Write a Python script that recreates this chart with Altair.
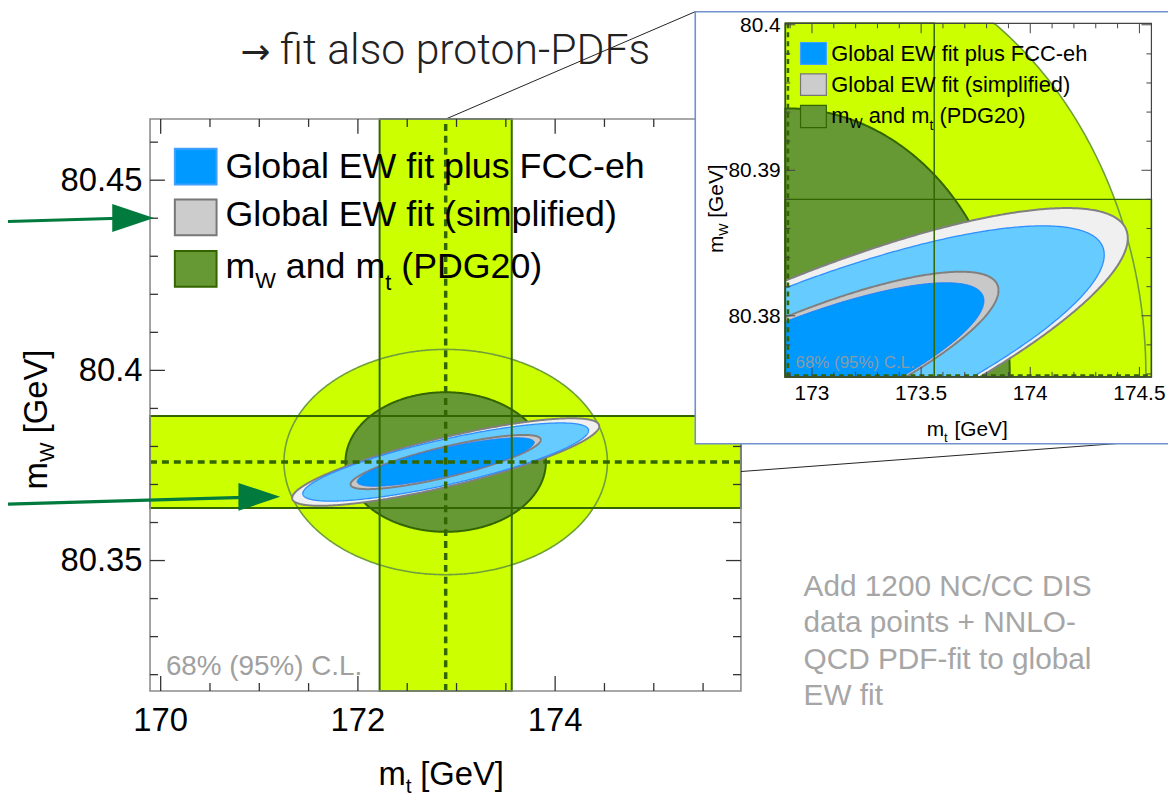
import numpy as np
import pandas as pd
import altair as alt

# ---------------- data ----------------
MT, SMT = 172.89, 0.67          # m_t (PDG20) centre and 1-sigma
MW, SMW = 80.3759, 0.0121       # m_W (PDG20) centre and 1-sigma
FIT_SIMPLE = dict(sx=0.636, sy=0.0047, rho=0.82)   # global EW fit (simplified)
FIT_FCC = dict(sx=0.592, sy=0.0042, rho=0.806)     # global EW fit plus FCC-eh
CHI2_68, CHI2_95 = 2.30, 5.99

MAIN_X = [169.892, 175.884]
MAIN_Y = [80.3157, 80.4661]
INSET_X = [172.878, 174.555]
INSET_Y = [80.3758, 80.4001]

MAIN_XTICK_MAJOR = [170, 172, 174]
MAIN_XTICK_MINOR = [170.5, 171, 171.5, 172.5, 173, 173.5, 174.5, 175, 175.5]
MAIN_YTICK_MAJOR = [80.35, 80.40, 80.45]
MAIN_YTICK_MINOR = [80.32, 80.33, 80.34, 80.36, 80.37, 80.38, 80.39,
                    80.41, 80.42, 80.43, 80.44, 80.46]
MAIN_XLABELS = ["170", "172", "174"]
MAIN_YLABELS = ["80.35", "80.4", "80.45"]

INSET_XTICK_MAJOR = [173, 173.5, 174, 174.5]
INSET_XTICK_MINOR = [172.9, 173.1, 173.2, 173.3, 173.4, 173.6, 173.7, 173.8,
                     173.9, 174.1, 174.2, 174.3, 174.4]
INSET_YTICK_MAJOR = [80.38, 80.39, 80.40]
INSET_YTICK_MINOR = [80.376, 80.378, 80.382, 80.384, 80.386, 80.388,
                     80.392, 80.394, 80.396, 80.398]
INSET_XLABELS = ["173", "173.5", "174", "174.5"]
INSET_YLABELS = ["80.38", "80.39", "80.4"]

LEGEND_1 = "Global EW fit plus FCC-eh"
LEGEND_2 = "Global EW fit (simplified)"
TITLE_ARROW = "\u2192"
TITLE = "fit also proton-PDFs"
NOTE = ["Add 1200 NC/CC DIS", "data points + NNLO-", "QCD PDF-fit to global", "EW fit"]
CL_TEXT = "68% (95%) C.L."

# ---------------- style / layout ----------------
FONT = "Liberation Sans, Arial, Helvetica, sans-serif"
LIME = "#ccff00"
DGREEN = "#669933"
EDGE = "#336600"
OX, OY = 151, 117           # page position of main plot origin
W, H = 595, 576
SP = 0.278                  # width of a space, em


def px(x):
    return x - OX


def py(y):
    return y - OY


ONE = pd.DataFrame({"k": [0]})

MXS = alt.Scale(domain=MAIN_X, range=[0, W], nice=False, zero=False)
MYS = alt.Scale(domain=MAIN_Y, range=[H, 0], nice=False, zero=False)
IXS = alt.Scale(domain=INSET_X, range=[px(790.7), px(1159.3)], nice=False, zero=False, clamp=True)
IYS = alt.Scale(domain=INSET_Y, range=[py(376.7), py(20.7)], nice=False, zero=False, clamp=True)


def ellipse(sx, sy, rho, chi2, n=721):
    t = np.linspace(0, 2 * np.pi, n)
    r = np.sqrt(chi2)
    x = MT + r * sx * np.cos(t)
    y = MW + r * (rho * sy * np.cos(t) + sy * np.sqrt(1 - rho ** 2) * np.sin(t))
    return pd.DataFrame({"x": x, "y": y, "o": np.arange(n)})


def XQ(f, s):
    return alt.X(f, type="quantitative", scale=s, axis=None)


def YQ(f, s):
    return alt.Y(f, type="quantitative", scale=s, axis=None)


def poly(df, XS, YS, fill, stroke, sw):
    return alt.Chart(df).mark_line(fill=fill, stroke=stroke, strokeWidth=sw,
                                   strokeJoin="round").encode(
        x=XQ("x", XS), y=YQ("y", YS), order=alt.Order("o:Q"))


def plot_content(XS, YS, xd, yd, dash, dw, ew):
    vband = pd.DataFrame({"x0": [MT - SMT], "x1": [MT + SMT], "y0": [yd[0]], "y1": [yd[1]]})
    hband = pd.DataFrame({"x0": [xd[0]], "x1": [xd[1]], "y0": [MW - SMW], "y1": [MW + SMW]})
    layers = []
    for b in (vband, hband):
        layers.append(alt.Chart(b).mark_rect(fill=LIME).encode(
            x=XQ("x0", XS), x2="x1", y=YQ("y0", YS), y2="y1"))
    pdg = dict(sx=SMT, sy=SMW, rho=0.0)
    layers.append(poly(ellipse(chi2=CHI2_95, **pdg), XS, YS, LIME, "#6f9f3c", 1.6))
    layers.append(poly(ellipse(chi2=CHI2_68, **pdg), XS, YS, DGREEN, EDGE, 2))
    layers.append(poly(ellipse(chi2=CHI2_95, **FIT_SIMPLE), XS, YS, "#f0f0f0", "#808080", 2))
    layers.append(poly(ellipse(chi2=CHI2_95, **FIT_FCC), XS, YS, "#66ccff", "#2f8fff", 1.3))
    layers.append(poly(ellipse(chi2=CHI2_68, **FIT_SIMPLE), XS, YS, "#c8c8c8", "#808080", 2))
    layers.append(poly(ellipse(chi2=CHI2_68, **FIT_FCC), XS, YS, "#0099ff", "#1a7fff", 1))
    for b in (vband, hband):
        layers.append(alt.Chart(b).mark_rect(fillOpacity=0, stroke=EDGE, strokeWidth=ew).encode(
            x=XQ("x0", XS), x2="x1", y=YQ("y0", YS), y2="y1"))
    layers.append(alt.Chart(pd.DataFrame({"v": [MT], "a": [yd[0]], "b": [yd[1]]})).mark_rule(
        color=EDGE, strokeWidth=dw, strokeDash=dash).encode(x=XQ("v", XS), y=YQ("a", YS), y2="b"))
    layers.append(alt.Chart(pd.DataFrame({"v": [MW], "a": [xd[0]], "b": [xd[1]]})).mark_rule(
        color=EDGE, strokeWidth=dw, strokeDash=dash).encode(y=YQ("v", YS), x=XQ("a", XS), x2="b"))
    return layers


def frame_and_ticks(XS, YS, xd, yd, xmaj, xmin, ymaj, ymin, lmaj, lmin, fcol, fw, tcol, tw):
    layers = [alt.Chart(pd.DataFrame({"x0": [xd[0]], "x1": [xd[1]], "y0": [yd[0]], "y1": [yd[1]]}))
              .mark_rect(fillOpacity=0, stroke=fcol, strokeWidth=fw).encode(
                  x=XQ("x0", XS), x2="x1", y=YQ("y0", YS), y2="y1")]
    for vals, L in ((xmaj, lmaj), (xmin, lmin)):
        d = pd.DataFrame({"v": vals, "lo": yd[0], "hi": yd[1]})
        layers.append(alt.Chart(d).mark_rule(color=tcol, strokeWidth=tw, y2Offset=-L).encode(
            x=XQ("v", XS), y=YQ("lo", YS), y2="lo"))
        layers.append(alt.Chart(d).mark_rule(color=tcol, strokeWidth=tw, y2Offset=L).encode(
            x=XQ("v", XS), y=YQ("hi", YS), y2="hi"))
    for vals, L in ((ymaj, lmaj), (ymin, lmin)):
        d = pd.DataFrame({"v": vals, "lo": xd[0], "hi": xd[1]})
        layers.append(alt.Chart(d).mark_rule(color=tcol, strokeWidth=tw, x2Offset=L).encode(
            y=YQ("v", YS), x=XQ("lo", XS), x2="lo"))
        layers.append(alt.Chart(d).mark_rule(color=tcol, strokeWidth=tw, x2Offset=-L).encode(
            y=YQ("v", YS), x=XQ("hi", XS), x2="hi"))
    return layers


def txt(s, x, y, size, color="black", align="left", angle=0, font=FONT, weight="normal",
        baseline="alphabetic", opacity=1.0):
    return alt.Chart(ONE).mark_text(text=s, font=font, fontSize=size, color=color, align=align,
                                    angle=angle, fontWeight=weight, baseline=baseline,
                                    opacity=opacity).encode(
        x=alt.value(px(x)), y=alt.value(py(y)))


def box(x0, y0, x1, y1, fill, stroke, sw):
    return alt.Chart(ONE).mark_rect(fill=fill, stroke=stroke, strokeWidth=sw).encode(
        x=alt.value(px(x0)), x2=alt.value(px(x1)), y=alt.value(py(y0)), y2=alt.value(py(y1)))


def seg(x0, y0, x1, y1, color, sw):
    return alt.Chart(ONE).mark_rule(color=color, strokeWidth=sw).encode(
        x=alt.value(px(x0)), x2=alt.value(px(x1)), y=alt.value(py(y0)), y2=alt.value(py(y1)))


def arrowhead(x, y, color):
    return alt.Chart(ONE).mark_point(shape="M -1 -0.67 L 1 0 L -1 0.67 Z", size=1764, filled=True,
                                     fill=color, opacity=1, strokeWidth=0).encode(
        x=alt.value(px(x)), y=alt.value(py(y)))


def legend(x0, x1, rows, tx, size, subsize, sub_dy, sw):
    cols = [("#0099ff", "#3fa0ff"), ("#cccccc", "#777777"), (DGREEN, EDGE)]
    L = []
    for (f, s), (ya, yb, base) in zip(cols, rows):
        L.append(box(x0, ya, x1, yb, f, s, sw))
    L.append(txt(LEGEND_1, tx, rows[0][2], size))
    L.append(txt(LEGEND_2, tx, rows[1][2], size))
    b = rows[2][2]
    wm = 0.833 * size
    L.append(txt("m", tx, b, size))
    L.append(txt("W", tx + wm, b + sub_dy, subsize))
    x2 = tx + wm + 0.944 * subsize + SP * size
    L.append(txt("and m", x2, b, size))
    x3 = x2 + (3.057 - SP) * size
    L.append(txt("t", x3, b + sub_dy + 2, subsize))
    L.append(txt("(PDG20)", x3 + SP * subsize + SP * size, b, size))
    return L


# ---------------- main panel ----------------
main_layers = []
main_layers.append(seg(449, 117, 700, 9, "#222222", 1))
main_layers += plot_content(MXS, MYS, MAIN_X, MAIN_Y, [7, 5], 3.5, 2)
main_layers += frame_and_ticks(MXS, MYS, MAIN_X, MAIN_Y, MAIN_XTICK_MAJOR, MAIN_XTICK_MINOR,
                               MAIN_YTICK_MAJOR, MAIN_YTICK_MINOR, 15, 8, "#8c8c8c", 1.6,
                               "#333333", 1.3)
main_layers += legend(176, 218, [(147, 183, 176), (198, 234, 225), (250, 286, 277)],
                      227, 36, 22, 10, 2)
main_layers.append(txt(CL_TEXT, 167, 677, 28, color="#a0a0a0"))
main_layers.append(alt.Chart(pd.DataFrame({"v": MAIN_XTICK_MAJOR, "t": MAIN_XLABELS})).mark_text(
    font=FONT, fontSize=33, align="center", baseline="alphabetic", color="black").encode(
    x=XQ("v", MXS), y=alt.value(py(733)), text="t:N"))
main_layers.append(alt.Chart(pd.DataFrame({"v": MAIN_YTICK_MAJOR, "t": MAIN_YLABELS})).mark_text(
    font=FONT, fontSize=33, align="right", baseline="middle", color="black", dy=1).encode(
    y=YQ("v", MYS), x=alt.value(px(143.5)), text="t:N"))
# axis titles
main_layers.append(txt("m", 381, 788, 33))
main_layers.append(txt("t", 381 + 0.833 * 33, 796, 21))
main_layers.append(txt("[GeV]", 423, 788, 33))
main_layers.append(txt("m", 47, 490, 33, angle=270))
main_layers.append(txt("W", 54, 490 - 0.833 * 33, 21, angle=270))
main_layers.append(txt("[GeV]", 47, 490 - 0.833 * 33 - 0.944 * 21 - SP * 33, 33, angle=270))
# slide annotations
main_layers.append(txt(TITLE_ARROW, 242, 62, 36, color="#222222", font="DejaVu Sans"))
main_layers.append(txt(TITLE, 282, 62, 43, color="#222222", font="Roboto", weight=300))
for i, line in enumerate(NOTE):
    main_layers.append(txt(line, 809, 597 + 36.7 * i, 30, color="#a6a6a6"))
main_layers.append(seg(0, 220.5, 120, 217, "#007a3d", 3.2))
main_layers.append(arrowhead(134, 216.8, "#007a3d"))
main_layers.append(seg(0, 505, 246, 498, "#007a3d", 3.2))
main_layers.append(arrowhead(261, 497.5, "#007a3d"))
main_layers.append(seg(746, 472, 1176, 440, "#222222", 1))

main = alt.layer(*main_layers)

# ---------------- inset panel ----------------
inset_layers = [box(700, 9, 1200, 444, "white", "#7091cc", 1.6)]
inset_layers += plot_content(IXS, IYS, INSET_X, INSET_Y, [5, 4], 2.5, 1.5)
inset_layers += frame_and_ticks(IXS, IYS, INSET_X, INSET_Y, INSET_XTICK_MAJOR, INSET_XTICK_MINOR,
                                INSET_YTICK_MAJOR, INSET_YTICK_MINOR, 10, 5, "#444444", 1.2,
                                "#444444", 1)
inset_layers += legend(806, 832, [(40, 62, 59), (71.7, 93.3, 90), (103.3, 125.7, 121)],
                       837, 22, 14, 5, 1.2)
inset_layers.append(txt(CL_TEXT, 801, 368, 17, color="#8c9aa6"))
inset_layers.append(alt.Chart(pd.DataFrame({"v": INSET_XTICK_MAJOR, "t": INSET_XLABELS})).mark_text(
    font=FONT, fontSize=21, align="center", baseline="alphabetic", color="black").encode(
    x=XQ("v", IXS), y=alt.value(py(400)), text="t:N"))
inset_layers.append(alt.Chart(pd.DataFrame({"v": INSET_YTICK_MAJOR, "t": INSET_YLABELS})).mark_text(
    font=FONT, fontSize=21, align="right", baseline="middle", color="black", dy=1).encode(
    y=YQ("v", IYS), x=alt.value(px(786)), text="t:N"))
inset_layers.append(txt("m", 933, 436.5, 21))
inset_layers.append(txt("t", 933 + 0.833 * 21, 442, 13))
inset_layers.append(txt("[GeV]", 961, 436.5, 21))
inset_layers.append(txt("m", 728, 252, 21, angle=270))
inset_layers.append(txt("W", 733, 252 - 0.833 * 21, 13, angle=270))
inset_layers.append(txt("[GeV]", 728, 252 - 0.833 * 21 - 0.944 * 13 - SP * 21, 21, angle=270))

inset = alt.layer(*inset_layers)

chart = alt.layer(main, inset).resolve_scale(x="independent", y="independent").properties(
    width=W, height=H,
    autosize=alt.AutoSizeParams(type="none"),
    padding={"left": OX - 8, "top": OY - 8, "right": 1168 - (OX - 8) - W, "bottom": 790 - (OY - 8) - H},
    background="white",
).configure_view(strokeWidth=0)

chart.save("out.html", embed_options={"renderer": "svg", "actions": False})
